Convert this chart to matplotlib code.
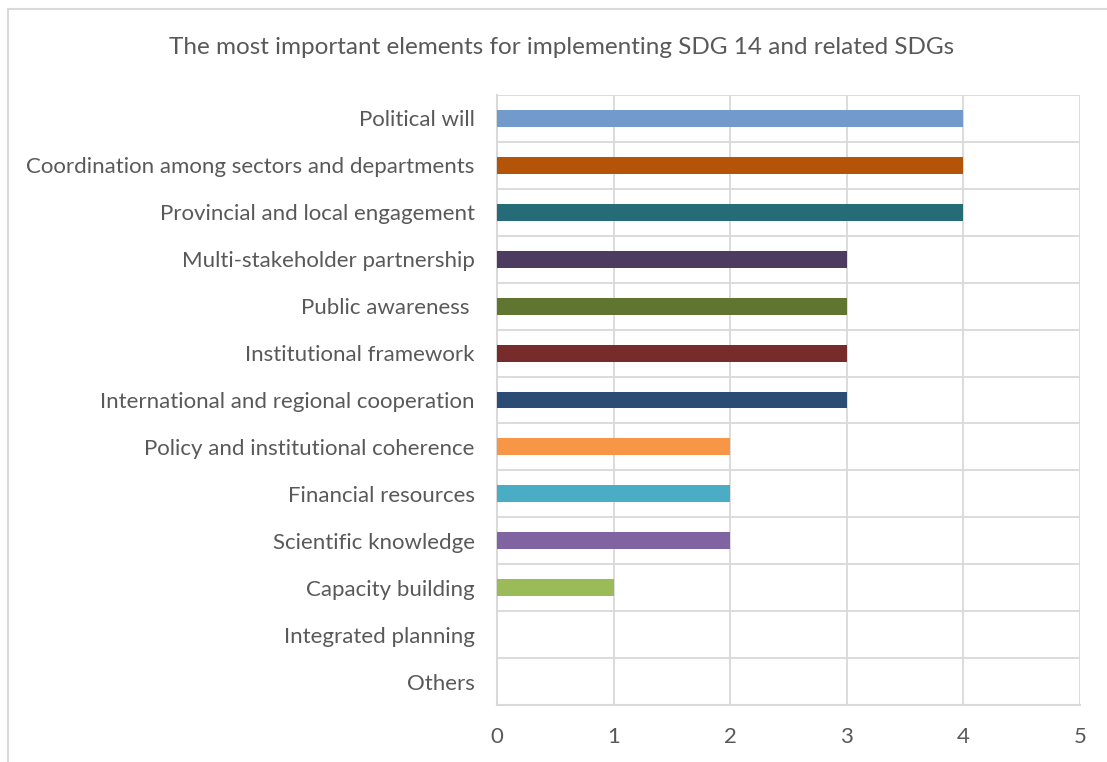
import matplotlib
matplotlib.use("Agg")
import matplotlib.pyplot as plt
from matplotlib.patches import Rectangle

# ── Data ──────────────────────────────────────────────────────────────────
categories = [
    "Political will",
    "Coordination among sectors and departments",
    "Provincial and local engagement",
    "Multi-stakeholder partnership",
    "Public awareness ",
    "Institutional framework",
    "International and regional cooperation",
    "Policy and institutional coherence",
    "Financial resources",
    "Scientific knowledge",
    "Capacity building",
    "Integrated planning",
    "Others",
]
counts = [4, 4, 4, 3, 3, 3, 3, 2, 2, 2, 1, 0, 0]
bar_colors = ["#729ACB", "#B45408", "#256B78", "#4D3B62", "#607530",
              "#772B2A", "#2B4D74", "#F79646", "#4BACC6", "#8064A2",
              "#9BBB59", "#9BBB59", "#9BBB59"]
x_ticks = [0, 1, 2, 3, 4, 5]

TEXT = "#595959"
GRID = "#D9D9D9"

plt.rcParams["font.family"] = ["Lato", "DejaVu Sans"]

W, H = 1107, 762
fig = plt.figure(figsize=(W / 100, H / 100), dpi=100)
ax = fig.add_axes([497 / W, 1 - 705 / H, (1080 - 497) / W, (705 - 95) / H])

# chart frame, cut off at the right and bottom edges
fig.patches.append(Rectangle((8 / W, -0.1), 1.2, 1 - 9 / H + 0.1,
                             transform=fig.transFigure, fill=False,
                             edgecolor=GRID, linewidth=1.5, zorder=0))

n = len(categories)
ypos = list(range(n))
ax.barh(ypos, counts, height=0.36, color=bar_colors, zorder=3)

ax.set_xlim(0, 5)
ax.set_ylim(n - 0.5, -0.5)
ax.set_xticks(x_ticks)
ax.set_yticks(ypos)
ax.set_yticklabels(categories)
ax.set_yticks([i - 0.5 for i in range(n + 1)], minor=True)

ax.grid(axis="x", color=GRID, linewidth=1.3, zorder=0)
ax.grid(axis="y", which="minor", color=GRID, linewidth=1.3, zorder=0)
ax.tick_params(axis="both", which="both", length=0, colors=TEXT,
               labelsize=16)
ax.tick_params(axis="x", pad=16)
ax.tick_params(axis="y", pad=16)

for side in ["top", "right"]:
    ax.spines[side].set_visible(False)
for side in ["left", "bottom"]:
    ax.spines[side].set_color(GRID)
    ax.spines[side].set_linewidth(1.5)

fig.text(561.5 / W, 1 - 47 / H,
         "The most important elements for implementing SDG 14 and related SDGs",
         ha="center", va="center", color=TEXT, fontsize=17.5)

fig.savefig("out.png", dpi=100)
